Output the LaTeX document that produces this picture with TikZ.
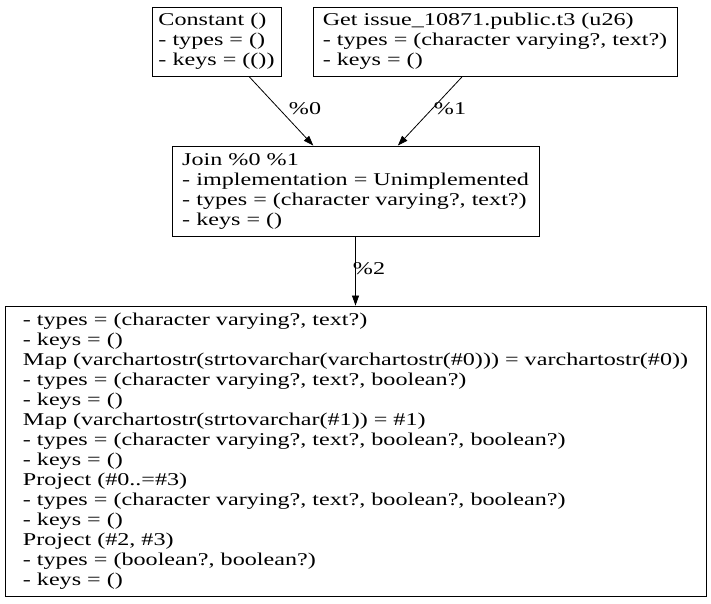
\documentclass[tikz,border=0pt]{standalone}
\usepackage{fontspec}
\setmainfont{Liberation Serif}[FakeStretch=1.34]
\usetikzlibrary{arrows.meta}

\begin{document}
\begin{tikzpicture}[x=1pt,y=1pt,
        box/.style={draw,line width=0.9pt,align=left,inner sep=0pt,
                    font=\fontsize{18}{20}\selectfont},
        edge/.style={line width=0.8pt,-{Triangle[length=10pt,width=7pt]}},
        lbl/.style={font=\fontsize{18}{20}\selectfont}]
        \useasboundingbox (0,0) rectangle (711,-603);
        \node[box,minimum width=129,minimum height=69] (const) at (216.5,-41.5)
              {Constant ()\\- types = ()\\- keys = (())};
        \node[box,minimum width=364,minimum height=69] (get) at (495,-41.5)
              {Get issue\_10871.public.t3 (u26)\\- types = (character varying?, text?)\\- keys = ()};
        \node[box,minimum width=367,minimum height=90] (join) at (355.5,-191)
              {Join \%0 \%1\\- implementation = Unimplemented\\- types = (character varying?, text?)\\- keys = ()};
        \node[box,minimum width=701,minimum height=290] (map) at (355.5,-451)
              {- types = (character varying?, text?)\\- keys = ()\\
               Map (varchartostr(strtovarchar(varchartostr(\#0))) = varchartostr(\#0))\\
               - types = (character varying?, text?, boolean?)\\- keys = ()\\
               Map (varchartostr(strtovarchar(\#1)) = \#1)\\
               - types = (character varying?, text?, boolean?, boolean?)\\- keys = ()\\
               Project (\#0..=\#3)\\
               - types = (character varying?, text?, boolean?, boolean?)\\- keys = ()\\
               Project (\#2, \#3)\\- types = (boolean?, boolean?)\\- keys = ()};
        \draw[edge] (const) -- (join);
        \draw[edge] (get) -- (join);
        \draw[edge] (join) -- (map);
        \node[lbl] (l0) at (305,-109) {\%0};
        \node[lbl] (l1) at (450,-109) {\%1};
        \node[lbl] (l2) at (369,-269) {\%2};
\end{tikzpicture}
\end{document}
